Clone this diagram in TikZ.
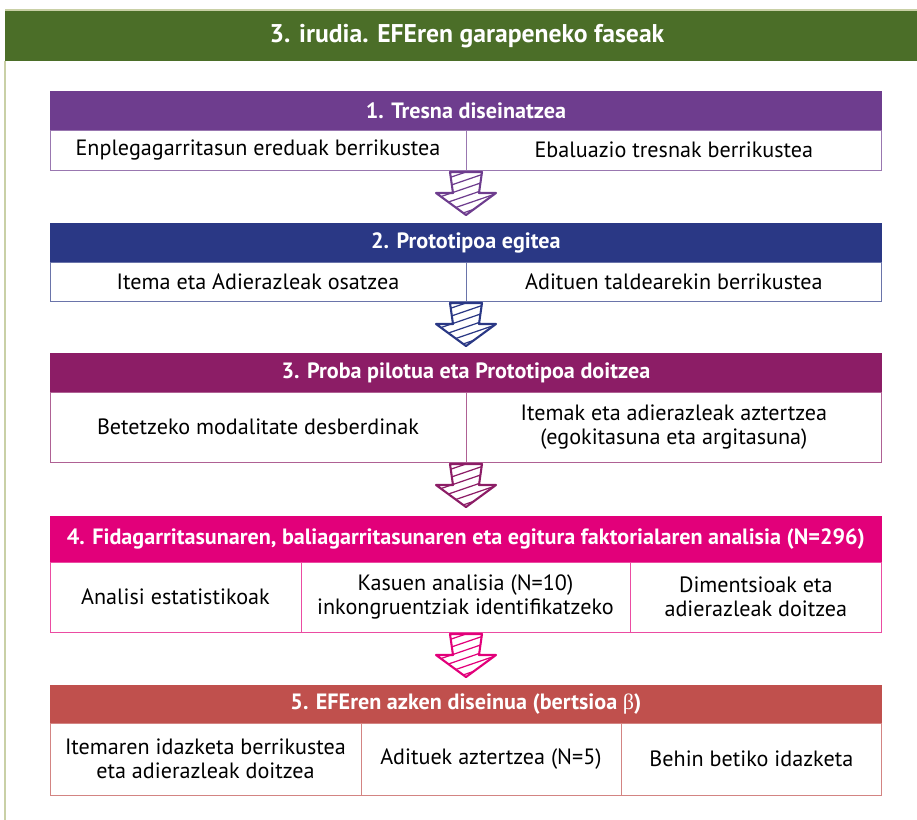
\documentclass[tikz,border=0pt]{standalone}
\usepackage{fontspec}
\setmainfont{PT Sans}
\newfontfamily\greekfont{Liberation Serif}
\usetikzlibrary{positioning}

\definecolor{framegreen}{HTML}{4B6E28}
\definecolor{frameline}{HTML}{C9D0A6}
\definecolor{phaseone}{HTML}{6E3D8E}
\definecolor{phasetwo}{HTML}{2A3885}
\definecolor{phasethree}{HTML}{8C1D66}
\definecolor{phasefour}{HTML}{E2007A}
\definecolor{phasefive}{HTML}{C0504D}

\tikzset{
  head/.style={fill=#1, draw=#1, text=white, font=\fontsize{12.6}{14}\selectfont\bfseries,
    anchor=north west, minimum width=16.64cm, minimum height=0.78cm, inner sep=0pt, outer sep=0pt},
  cell/.style={draw=#1!70, fill=white, text=black, font=\fontsize{12.6}{13.8}\selectfont,
    anchor=north west, align=center, inner sep=0pt, outer sep=0pt}
}

% hatched block arrow, top centre at #1
\newcommand{\phasearrow}[2]{
  \begin{scope}[shift={#1}]
    \begin{scope}
      \clip (-16,0) -- (16,0) -- (13,21) -- (30,21) -- (0,43) -- (-30,21) -- (-13,21) -- cycle;
      \foreach \c in {-8,0,...,64}
        \draw[#2, line width=0.7pt] (-35,\c+12) -- (35,\c-12);
    \end{scope}
    \draw[#2, line width=1.2pt, line join=round] (-16,0) -- (16,0) -- (13,21) -- (30,21) -- (0,43) -- (-30,21) -- (-13,21) -- cycle;
  \end{scope}
}

\begin{document}
\begin{tikzpicture}[x=0.02cm, y=-0.02cm]
\useasboundingbox (0,0) rectangle (917,820);

% frame
\fill[framegreen] (5,10) rectangle (917,61);
\draw[frameline, line width=1pt] (5,10) -- (917,10);
\draw[frameline, line width=1.5pt] (5,61) -- (5,820);
\node[text=white, font=\fontsize{14.6}{16}\selectfont\bfseries] (t) at (467,36) {3. irudia. EFEren garapeneko faseak};

% 1
\node[head=phaseone] (h1) at (50,91) {1. Tresna diseinatzea};
\node[cell=phaseone, minimum width=8.32cm, minimum height=0.8cm] (c11) at (h1.south west) {Enplegagarritasun ereduak berrikustea};
\node[cell=phaseone, minimum width=8.32cm, minimum height=0.8cm] (c12) at (c11.north east) {Ebaluazio tresnak berrikustea};
\phasearrow{(466,172)}{phaseone}

% 2
\node[head=phasetwo] (h2) at (50,223) {2. Prototipoa egitea};
\node[cell=phasetwo, minimum width=8.32cm, minimum height=0.78cm] (c21) at (h2.south west) {Itema eta Adierazleak osatzea};
\node[cell=phasetwo, minimum width=8.32cm, minimum height=0.78cm] (c22) at (c21.north east) {Adituen taldearekin berrikustea};
\phasearrow{(466,303)}{phasetwo}

% 3
\node[head=phasethree] (h3) at (50,353) {3. Proba pilotua eta Prototipoa doitzea};
\node[cell=phasethree, minimum width=8.32cm, minimum height=1.4cm] (c31) at (h3.south west) {Betetzeko modalitate desberdinak};
\node[cell=phasethree, minimum width=8.32cm, minimum height=1.4cm] (c32) at (c31.north east) {Itemak eta adierazleak aztertzea\\(egokitasuna eta argitasuna)};
\phasearrow{(466,464)}{phasethree}

% 4
\node[head=phasefour, minimum height=0.92cm] (h4) at (50,516) {4. Fidagarritasunaren, baliagarritasunaren eta egitura faktorialaren analisia (N=296)};
\node[cell=phasefour, minimum width=5.02cm, minimum height=1.4cm] (c41) at (h4.south west) {Analisi estatistikoak};
\node[cell=phasefour, minimum width=6.58cm, minimum height=1.4cm] (c42) at (c41.north east) {Kasuen analisia (N=10)\\inkongruentziak identifikatzeko};
\node[cell=phasefour, minimum width=5.04cm, minimum height=1.4cm] (c43) at (c42.north east) {Dimentsioak eta\\adierazleak doitzea};
\phasearrow{(466,634)}{phasefour}

% 5
\node[head=phasefive, minimum height=0.76cm] (h5) at (50,685) {5. EFEren azken diseinua (bertsioa {\greekfont\mdseries β})};
\node[cell=phasefive, minimum width=6.22cm, minimum height=1.44cm] (c51) at (h5.south west) {Itemaren idazketa berrikustea\\eta adierazleak doitzea};
\node[cell=phasefive, minimum width=5.2cm, minimum height=1.44cm] (c52) at (c51.north east) {Adituek aztertzea (N=5)};
\node[cell=phasefive, minimum width=5.22cm, minimum height=1.44cm] (c53) at (c52.north east) {Behin betiko idazketa};
\end{tikzpicture}
\end{document}
